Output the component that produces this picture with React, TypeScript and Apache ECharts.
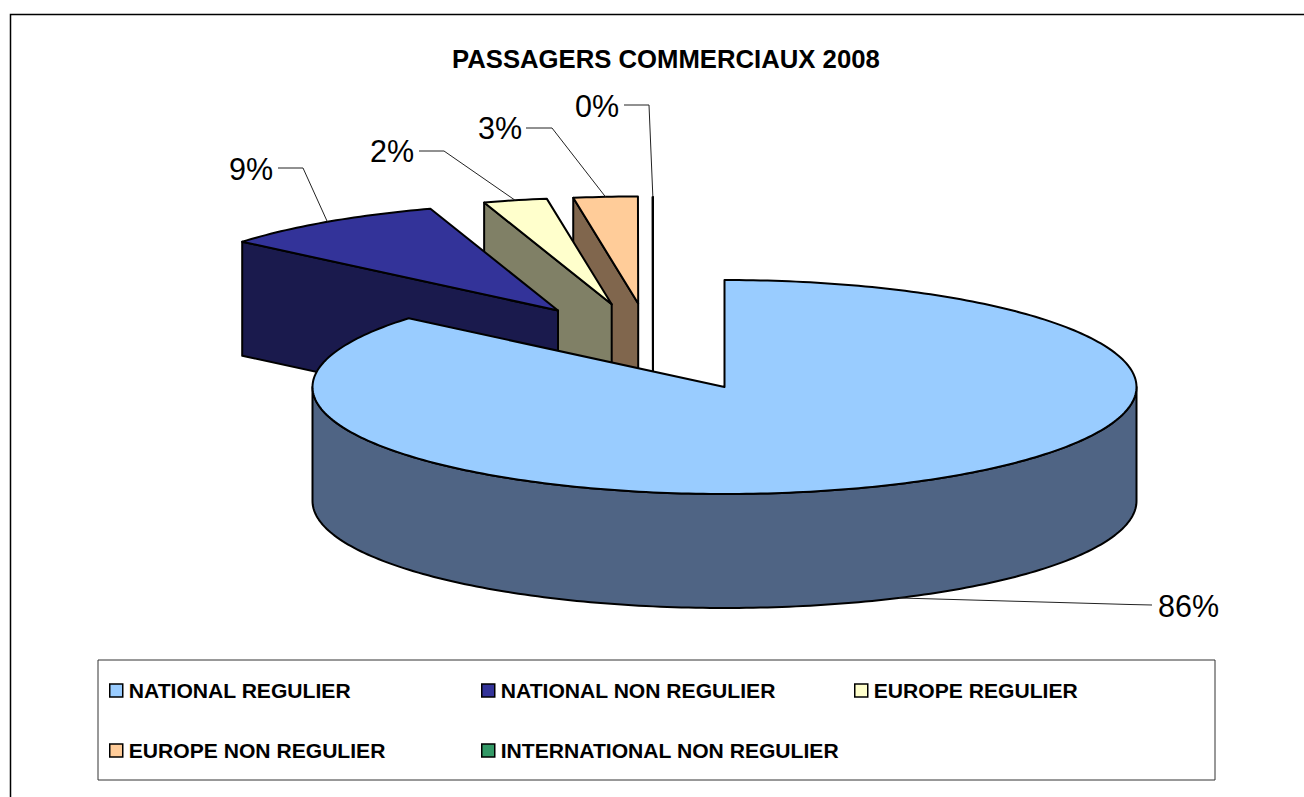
import React, { useEffect, useRef } from "react";
import * as echarts from "echarts";

const TITLE = "PASSAGERS COMMERCIAUX 2008";
const categories = [
  "NATIONAL REGULIER",
  "NATIONAL NON REGULIER",
  "EUROPE REGULIER",
  "EUROPE NON REGULIER",
  "INTERNATIONAL NON REGULIER",
];
const shares = [86.1, 8.89, 2.49, 2.51, 0.01];
const topColors = ["#99CCFF", "#333399", "#FFFFCC", "#FFCC99", "#339966"];
const sideColors = ["#4F6484", "#1A1A4D", "#808066", "#80664D", "#1A4D33"];

// Layout only: apex of every exploded slice, and label / leader placement.
const RX = 412;
const RY = 107;
const DEPTH = 114;
const FONT = "'Liberation Sans', Arial, sans-serif";
const apexes = [
  [724.5, 387],
  [558, 310.5],
  [611.7, 304.3],
  [638.2, 303.5],
  [653, 304],
];
const leaderStubs = [
  [[1130, 604.5], [1152, 605]],
  [[303, 168], [278, 168]],
  [[444, 151], [419, 151]],
  [[552, 128], [526, 128]],
  [[649, 105], [624, 105]],
];
const labelAnchors = [
  [1158, 606],
  [229, 169],
  [370, 151],
  [478, 128],
  [575, 106],
];
const legendSlots = [
  [109, 680],
  [481, 680],
  [854, 680],
  [109, 740],
  [481, 740],
];

const total = shares.reduce((a, b) => a + b, 0);
const startAngles: number[] = [];
shares.reduce((acc, v, i) => {
  startAngles[i] = (acc / total) * 360;
  return acc + v;
}, 0);

const rim = (i: number, deg: number, drop = 0) => {
  const t = (deg * Math.PI) / 180;
  return [
    apexes[i][0] + RX * Math.sin(t),
    apexes[i][1] - RY * Math.cos(t) + drop,
  ];
};

const arcPoints = (i: number, from: number, to: number, drop = 0) => {
  const n = Math.max(2, Math.ceil((to - from) / 1));
  const out: number[][] = [];
  for (let k = 0; k <= n; k++) out.push(rim(i, from + ((to - from) * k) / n, drop));
  return out;
};

const edge = { stroke: "#000", lineWidth: 2, lineJoin: "round" };

function renderSlice(i: number, value: number) {
  const a0 = startAngles[i];
  const a1 = a0 + (value / total) * 360;
  const [ax, ay] = apexes[i];
  const children: any[] = [];

  // cut face on the starting side of the wedge, visible for the exploded slices
  if (i > 0) {
    const r0 = rim(i, a0);
    children.push({
      type: "polygon",
      shape: { points: [[ax, ay], r0, [r0[0], r0[1] + DEPTH], [ax, ay + DEPTH]] },
      style: { fill: sideColors[i], ...edge },
    });
  }
  // outer wall, only the front half of the rim is seen
  const w0 = Math.max(a0, 90);
  const w1 = Math.min(a1, 270);
  if (w1 > w0) {
    const top = arcPoints(i, w0, w1);
    const bottom = arcPoints(i, w0, w1, DEPTH).reverse();
    children.push({
      type: "polygon",
      shape: { points: [...top, ...bottom] },
      style: { fill: sideColors[i], ...edge },
    });
  }
  // top face
  children.push({
    type: "polygon",
    shape: { points: [[ax, ay], ...arcPoints(i, a0, a1)] },
    style: { fill: topColors[i], ...edge },
  });
  // leader line from the middle of the rim
  const mid = (a0 + a1) / 2;
  const anchor = rim(i, mid, mid > 90 && mid < 270 ? DEPTH : 0);
  children.push({
    type: "polyline",
    shape: { points: [anchor, ...leaderStubs[i]] },
    style: { fill: "none", stroke: "#222", lineWidth: 1 },
  });
  children.push({
    type: "text",
    x: labelAnchors[i][0],
    y: labelAnchors[i][1],
    style: {
      text: `${Math.round((value / total) * 100)}%`,
      fill: "#000",
      font: `30.5px ${FONT}`,
      textAlign: "left",
      textVerticalAlign: "middle",
    },
  });
  return { type: "group", children };
}

export default function App() {
  const ref = useRef<HTMLDivElement>(null);
  useEffect(() => {
    document.body.style.margin = "0";
    document.body.style.background = "#fff";
    const chart = echarts.init(ref.current!, undefined, { renderer: "svg" });
    chart.setOption({
      animation: false,
      backgroundColor: "#fff",
      title: {
        text: TITLE,
        left: 452,
        top: 46,
        padding: 0,
        textStyle: { fontFamily: FONT, fontSize: 25.7, fontWeight: "bold", color: "#000" },
      },
      legend: categories.map((name, i) => ({
        data: [
          {
            name,
            icon: "rect",
            itemStyle: { color: topColors[i], borderColor: "#000", borderWidth: 1.5 },
          },
        ],
        left: legendSlots[i][0],
        top: legendSlots[i][1],
        padding: 0,
        itemWidth: 13,
        itemHeight: 13,
        selectedMode: false,
        textStyle: {
          fontFamily: FONT,
          fontSize: 21.1,
          fontWeight: "bold",
          color: "#000",
          padding: [0, 0, 0, 1],
        },
      })),
      graphic: [
        {
          type: "polyline",
          z: 0,
          silent: true,
          shape: { points: [[10.5, 900], [10.5, 14.5], [1320, 14.5]] },
          style: { fill: "none", stroke: "#000", lineWidth: 1.5 },
        },
        {
          type: "rect",
          z: 0,
          silent: true,
          shape: { x: 98, y: 660, width: 1117, height: 120 },
          style: { fill: "none", stroke: "#333", lineWidth: 1 },
        },
      ],
      series: categories.map((name, i) => ({
        type: "custom",
        name,
        coordinateSystem: "none",
        silent: true,
        z: 10 - i,
        itemStyle: { color: topColors[i] },
        data: [[shares[i]]],
        renderItem: (_p: any, api: any) => renderSlice(i, api.value(0)),
      })),
    });
    return () => chart.dispose();
  }, []);
  return <div ref={ref} style={{ width: 1304, height: 797 }} />;
}
